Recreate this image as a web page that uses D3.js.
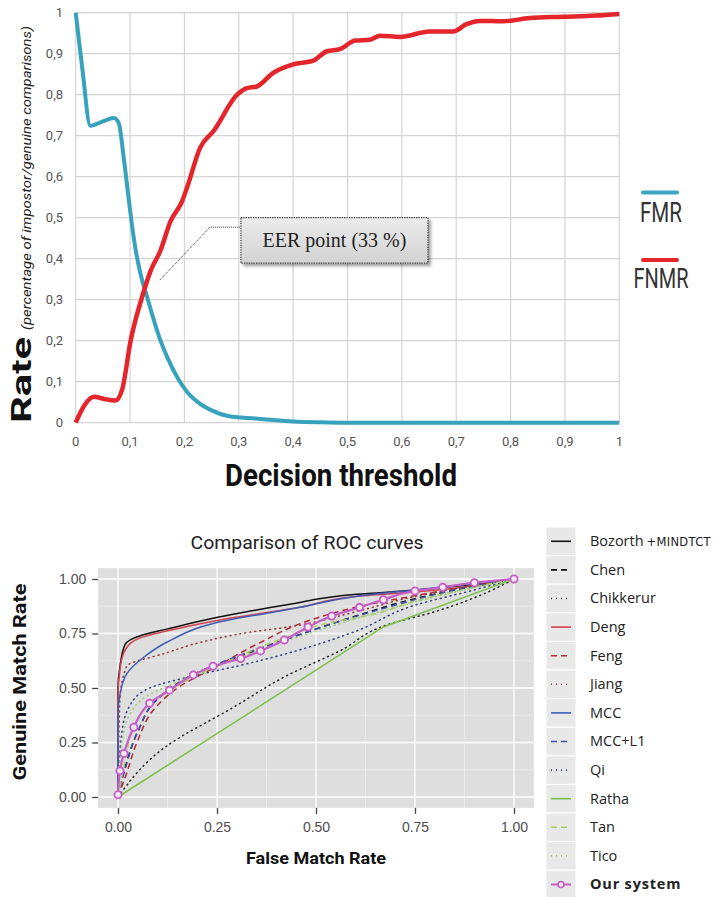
<!DOCTYPE html>
<html>
<head>
<meta charset="utf-8">
<script src="https://cdn.jsdelivr.net/npm/d3@7"></script>
<style>
  body { margin: 0; background: #fff; }
  svg { display: block; }
</style>
</head>
<body>
<div id="app"></div>
<script>
// ---- top chart : FMR / FNMR vs decision threshold ----
const fmrT  = [0, 0.012, 0.027, 0.05, 0.07, 0.079, 0.088, 0.098, 0.108, 0.118, 0.1315, 0.145, 0.156, 0.17, 0.187, 0.205, 0.229, 0.25, 0.278, 0.33, 0.40, 0.45, 0.5, 1];
const fmrV  = [1, 0.866, 0.724, 0.735, 0.743, 0.732, 0.65, 0.54, 0.44, 0.37, 0.306, 0.245, 0.2, 0.155, 0.11, 0.075, 0.046, 0.03, 0.017, 0.01, 0.003, 0.001, 0, 0];
const fnmrT = [0, 0.015, 0.034, 0.052, 0.073, 0.0857, 0.101, 0.122, 0.138, 0.156, 0.174, 0.196, 0.205, 0.229, 0.254, 0.297, 0.315, 0.333, 0.364, 0.40, 0.437, 0.462, 0.486, 0.514, 0.541, 0.56, 0.596, 0.651, 0.694, 0.719, 0.743, 0.786, 0.835, 0.896, 0.957, 1];
const fnmrV = [0, 0.04, 0.063, 0.058, 0.054, 0.082, 0.2, 0.306, 0.371, 0.42, 0.49, 0.541, 0.574, 0.671, 0.712, 0.80, 0.816, 0.82, 0.854, 0.874, 0.883, 0.906, 0.911, 0.932, 0.934, 0.944, 0.941, 0.954, 0.954, 0.972, 0.98, 0.979, 0.987, 0.99, 0.993, 0.997];
const topTicks = d3.range(0, 11).map(i => i / 10);
// EER call-out: pointer end, elbow, box corners (data units)
const eerLabel = "EER point (33 %)";
const eerPtr = [[0.155, 0.348], [0.247, 0.477], [0.304, 0.477]];
const eerBox = { t0: 0.304, t1: 0.648, r0: 0.389, r1: 0.5 };

// ---- bottom chart : ROC curves ----
const rocNames = ["Bozorth", "Chen", "Chikkerur", "Deng", "Feng", "Jiang", "MCC", "MCC+L1", "Qi", "Ratha", "Tan", "Tico", "Our system"];
const rocColors = ["#111111", "#111111", "#222222", "#d2434f", "#b32a35", "#9b3a3a", "#3d5db8", "#3e4fb0", "#2e3f86", "#7cc04a", "#a9cc60", "#9cc97c", "#c45ec6"];
const rocDash = ["", "6,4", "1,4", "", "6,4", "1,4", "", "6,4", "1,4", "", "6,4", "1,4", ""];
const rocX = [
  [0, 0, 0.005, 0.018, 0.056, 0.123, 0.249, 0.434, 0.603, 0.746, 1],
  [0, 0.02, 0.05, 0.1, 0.2, 0.3, 0.45, 0.6, 0.75, 1],
  [0, 0.12, 0.29, 0.43, 0.56, 0.68, 0.80, 0.94, 1],
  [0, 0, 0.006, 0.02, 0.056, 0.12, 0.25, 0.46, 0.6, 0.75, 1],
  [0, 0.02, 0.05, 0.09, 0.15, 0.25, 0.35, 0.5, 0.6, 0.77, 1],
  [0, 0.005, 0.022, 0.12, 0.21, 0.33, 0.43, 0.6, 0.75, 1],
  [0, 0, 0.005, 0.022, 0.064, 0.123, 0.25, 0.46, 0.6, 0.75, 1],
  [0, 0.02, 0.05, 0.1, 0.2, 0.3, 0.42, 0.55, 0.7, 0.85, 1],
  [0, 0.01, 0.03, 0.08, 0.2, 0.3, 0.43, 0.6, 0.75, 0.9, 1],
  [0, 0.67, 1],
  [0, 0.02, 0.039, 0.081, 0.14, 0.25, 0.434, 0.518, 0.645, 0.754, 1],
  [0, 0.01, 0.03, 0.07, 0.14, 0.25, 0.4, 0.55, 0.7, 0.85, 1],
  [0, 0.005, 0.015, 0.04, 0.08, 0.13, 0.19, 0.24, 0.31, 0.36, 0.42, 0.48, 0.54, 0.61, 0.67, 0.75, 0.82, 0.9, 1]
];
const rocY = [
  [0, 0.5, 0.6, 0.70, 0.74, 0.77, 0.823, 0.884, 0.93, 0.948, 1],
  [0, 0.15, 0.3, 0.45, 0.57, 0.64, 0.74, 0.83, 0.91, 1],
  [0, 0.23, 0.41, 0.56, 0.67, 0.79, 0.85, 0.945, 1],
  [0, 0.45, 0.6, 0.68, 0.73, 0.76, 0.81, 0.87, 0.92, 0.94, 1],
  [0, 0.1, 0.26, 0.4, 0.5, 0.6, 0.7, 0.82, 0.87, 0.93, 1],
  [0, 0.45, 0.6, 0.66, 0.71, 0.755, 0.78, 0.85, 0.92, 1],
  [0, 0.38, 0.47, 0.565, 0.64, 0.71, 0.80, 0.87, 0.92, 0.95, 1],
  [0, 0.14, 0.3, 0.45, 0.57, 0.645, 0.72, 0.8, 0.88, 0.95, 1],
  [0, 0.3, 0.42, 0.5, 0.56, 0.6, 0.66, 0.76, 0.88, 0.95, 1],
  [0, 0.78, 1],
  [0, 0.18, 0.32, 0.43, 0.5, 0.6, 0.74, 0.793, 0.838, 0.9, 1],
  [0, 0.25, 0.38, 0.46, 0.52, 0.6, 0.7, 0.79, 0.87, 0.94, 1],
  [0.01, 0.12, 0.2, 0.32, 0.43, 0.49, 0.56, 0.6, 0.635, 0.67, 0.72, 0.78, 0.83, 0.87, 0.905, 0.945, 0.962, 0.983, 1]
];
const rocTicks = [0, 0.25, 0.5, 0.75, 1];

const W = 726, H = 897;
const svg = d3.select("#app").append("svg").attr("width", W).attr("height", H);
const condFont = '"Liberation Sans Narrow", Roboto, "DejaVu Sans", sans-serif';

// ================= TOP CHART =================
const xT = d3.scaleLinear().domain([0, 1]).range([75.7, 619.3]);
const yT = d3.scaleLinear().domain([0, 1]).range([422.7, 12.7]);
const topG = svg.append("g");

// grid
topG.append("g").selectAll("line").data(topTicks).enter().append("line")
  .attr("x1", d => xT(d)).attr("x2", d => xT(d)).attr("y1", yT(0)).attr("y2", yT(1))
  .attr("stroke", "#d4d4d4").attr("stroke-width", 1.2);
topG.append("g").selectAll("line").data(topTicks).enter().append("line")
  .attr("x1", xT(0)).attr("x2", xT(1)).attr("y1", d => yT(d)).attr("y2", d => yT(d))
  .attr("stroke", "#d4d4d4").attr("stroke-width", 1.2);

const fmt = d => d === 0 || d === 1 ? String(d) : String(d).replace(".", ",");
topG.append("g").attr("transform", "translate(0," + (yT(0) + 23) + ")")
  .selectAll("text").data(topTicks).enter().append("text")
  .attr("x", d => xT(d)).attr("text-anchor", "middle")
  .attr("font-family", condFont).attr("font-size", 13).attr("fill", "#555")
  .text(fmt);
topG.append("g").selectAll("text").data(topTicks).enter().append("text")
  .attr("x", 63).attr("y", d => yT(d) + 4.5).attr("text-anchor", "end")
  .attr("font-family", condFont).attr("font-size", 13).attr("fill", "#555")
  .text(fmt);

const lineT = d3.line().x(d => xT(d[0])).y(d => yT(d[1])).curve(d3.curveMonotoneX);
topG.append("path").datum(fmrT.map((t, i) => [t, fmrV[i]]))
  .attr("d", lineT).attr("fill", "none").attr("stroke", "#38a2bd").attr("stroke-width", 4)
  .attr("stroke-linejoin", "round");
topG.append("path").datum(fnmrT.map((t, i) => [t, fnmrV[i]]))
  .attr("d", lineT).attr("fill", "none").attr("stroke", "#e4252b").attr("stroke-width", 4.5)
  .attr("stroke-linejoin", "round");

// EER call-out
const defs = svg.append("defs");
const grad = defs.append("linearGradient").attr("id", "boxg").attr("x1", 0).attr("x2", 0).attr("y1", 0).attr("y2", 1);
grad.append("stop").attr("offset", "0%").attr("stop-color", "#ececec");
grad.append("stop").attr("offset", "100%").attr("stop-color", "#d2d2d2");
const shadow = defs.append("filter").attr("id", "shd").attr("x", "-10%").attr("y", "-20%").attr("width", "130%").attr("height", "160%");
shadow.append("feDropShadow").attr("dx", 2.5).attr("dy", 2.5).attr("stdDeviation", 1.8).attr("flood-color", "#000").attr("flood-opacity", 0.4);

topG.append("path").datum(eerPtr)
  .attr("d", d3.line().x(d => xT(d[0])).y(d => yT(d[1])))
  .attr("fill", "none").attr("stroke", "#333").attr("stroke-width", 1).attr("stroke-dasharray", "1,1");
topG.append("rect")
  .attr("x", xT(eerBox.t0)).attr("y", yT(eerBox.r1))
  .attr("width", xT(eerBox.t1) - xT(eerBox.t0)).attr("height", yT(eerBox.r0) - yT(eerBox.r1))
  .attr("fill", "url(#boxg)").attr("stroke", "#333").attr("stroke-width", 1.2).attr("stroke-dasharray", "1.2,1.2")
  .attr("filter", "url(#shd)");
topG.append("text")
  .attr("x", (xT(eerBox.t0) + xT(eerBox.t1)) / 2).attr("y", (yT(eerBox.r0) + yT(eerBox.r1)) / 2 + 7)
  .attr("text-anchor", "middle").attr("font-family", '"Liberation Serif", "DejaVu Serif", serif')
  .attr("font-size", 20).attr("fill", "#222").text(eerLabel);

// axis titles
topG.append("text").attr("x", 341).attr("y", 486).attr("text-anchor", "middle")
  .attr("font-family", condFont).attr("font-weight", "bold").attr("font-size", 31)
  .attr("textLength", 232).attr("lengthAdjust", "spacingAndGlyphs")
  .attr("fill", "#111").text("Decision threshold");
topG.append("text").attr("transform", "translate(31,423) rotate(-90)")
  .attr("font-family", condFont).attr("font-weight", "bold").attr("font-size", 28)
  .attr("textLength", 86).attr("lengthAdjust", "spacingAndGlyphs")
  .attr("fill", "#111").text("Rate");
topG.append("text").attr("transform", "translate(31,330) rotate(-90)")
  .attr("font-family", condFont).attr("font-style", "italic").attr("font-size", 12.5)
  .attr("textLength", 304).attr("lengthAdjust", "spacingAndGlyphs")
  .attr("fill", "#222").text("(percentage of impostor/genuine comparisons)");

// legend FMR / FNMR
const topLeg = [{ n: "FMR", c: "#3ca6c2", y: 192.5, w: 42, b: 222 }, { n: "FNMR", c: "#e4252b", y: 260, w: 55, b: 288 }];
const tl = topG.append("g").selectAll("g").data(topLeg).enter().append("g");
tl.append("line").attr("x1", 643).attr("x2", 677).attr("y1", d => d.y).attr("y2", d => d.y)
  .attr("stroke", d => d.c).attr("stroke-width", 4).attr("stroke-linecap", "round");
tl.append("text").attr("x", 661).attr("y", d => d.b).attr("text-anchor", "middle")
  .attr("font-family", condFont).attr("font-size", 27)
  .attr("textLength", d => d.w).attr("lengthAdjust", "spacingAndGlyphs").attr("fill", "#333")
  .text(d => d.n);

// ================= BOTTOM CHART =================
const xB = d3.scaleLinear().domain([0, 1]).range([118, 514]);
const yB = d3.scaleLinear().domain([0, 1]).range([797, 579]);
const bot = svg.append("g");
const px0 = xB(-0.05), px1 = xB(1.05), py0 = yB(1.05), py1 = yB(-0.05);

bot.append("rect").attr("x", px0).attr("y", py0).attr("width", px1 - px0).attr("height", py1 - py0).attr("fill", "#dedede");
const minor = [0.125, 0.375, 0.625, 0.875];
bot.append("g").selectAll("line").data(minor).enter().append("line")
  .attr("x1", d => xB(d)).attr("x2", d => xB(d)).attr("y1", py0).attr("y2", py1)
  .attr("stroke", "#f2f2f2").attr("stroke-width", 0.6);
bot.append("g").selectAll("line").data(minor).enter().append("line")
  .attr("y1", d => yB(d)).attr("y2", d => yB(d)).attr("x1", px0).attr("x2", px1)
  .attr("stroke", "#f2f2f2").attr("stroke-width", 0.6);
bot.append("g").selectAll("line").data(rocTicks).enter().append("line")
  .attr("x1", d => xB(d)).attr("x2", d => xB(d)).attr("y1", py0).attr("y2", py1)
  .attr("stroke", "#fff").attr("stroke-width", 1.3);
bot.append("g").selectAll("line").data(rocTicks).enter().append("line")
  .attr("y1", d => yB(d)).attr("y2", d => yB(d)).attr("x1", px0).attr("x2", px1)
  .attr("stroke", "#fff").attr("stroke-width", 1.3);

// axes
const axB = bot.append("g").attr("transform", "translate(0," + py1 + ")")
  .call(d3.axisBottom(xB).tickValues(rocTicks).tickFormat(d3.format(".2f")).tickSize(6).tickPadding(8));
const axL = bot.append("g").attr("transform", "translate(" + px0 + ",0)")
  .call(d3.axisLeft(yB).tickValues(rocTicks).tickFormat(d3.format(".2f")).tickSize(6).tickPadding(6));
[axB, axL].forEach(a => {
  a.select(".domain").remove();
  a.selectAll(".tick line").attr("stroke", "#444").attr("stroke-width", 1.3);
  a.selectAll(".tick text").attr("fill", "#4d4d4d").attr("font-size", 14)
    .attr("font-family", '"Liberation Sans", Arial, sans-serif');
});

const rocData = rocNames.map((n, i) => ({ n, c: rocColors[i], dash: rocDash[i], pts: rocX[i].map((x, j) => [x, rocY[i][j]]) }));
const lineB = d3.line().x(p => xB(p[0])).y(p => yB(p[1])).curve(d3.curveMonotoneY);
const lineStraight = d3.line().x(p => xB(p[0])).y(p => yB(p[1]));
bot.append("g").selectAll("path").data(rocData).enter().append("path")
  .attr("d", d => d.pts.length > 3 ? lineB(d.pts) : lineStraight(d.pts))
  .attr("fill", "none").attr("stroke", d => d.c)
  .attr("stroke-width", d => d.n === "Our system" ? 2.2 : 1.5)
  .attr("stroke-dasharray", d => d.dash || null)
  .attr("stroke-linecap", d => d.dash.startsWith("1,") ? "round" : "butt");
const ours = rocData[rocData.length - 1];
bot.append("g").selectAll("circle").data(ours.pts).enter().append("circle")
  .attr("cx", d => xB(d[0])).attr("cy", d => yB(d[1])).attr("r", 3.6)
  .attr("fill", "#f4e8f4").attr("stroke", ours.c).attr("stroke-width", 1.8);

// titles
bot.append("text").attr("x", 307).attr("y", 549).attr("text-anchor", "middle")
  .attr("font-family", condFont).attr("font-size", 18)
  .attr("textLength", 233).attr("lengthAdjust", "spacingAndGlyphs").attr("fill", "#222")
  .text("Comparison of ROC curves");
bot.append("text").attr("x", (px0 + px1) / 2).attr("y", 864).attr("text-anchor", "middle")
  .attr("font-family", condFont).attr("font-weight", "bold").attr("font-size", 17)
  .attr("textLength", 140).attr("lengthAdjust", "spacingAndGlyphs")
  .attr("fill", "#111").text("False Match Rate");
bot.append("text").attr("transform", "translate(26,682) rotate(-90)").attr("text-anchor", "middle")
  .attr("font-family", condFont).attr("font-weight", "bold").attr("font-size", 18)
  .attr("textLength", 197).attr("lengthAdjust", "spacingAndGlyphs")
  .attr("fill", "#111").text("Genuine Match Rate");

// legend
const legStep = 28.6, legY0 = 527;
const lg = bot.append("g").selectAll("g").data(rocData).enter().append("g")
  .attr("transform", (d, i) => "translate(546," + (legY0 + i * legStep) + ")");
lg.append("rect").attr("width", 30).attr("height", legStep).attr("fill", "#e8e8e8").attr("stroke", "#fff").attr("stroke-width", 1);
lg.append("line").attr("x1", 5).attr("x2", 25).attr("y1", legStep / 2).attr("y2", legStep / 2)
  .attr("stroke", d => d.c).attr("stroke-width", d => d.n === "Our system" ? 2 : 1.6)
  .attr("stroke-dasharray", d => d.dash || null);
lg.filter(d => d.n === "Our system").append("circle").attr("cx", 15).attr("cy", legStep / 2).attr("r", 3)
  .attr("fill", "#f4e8f4").attr("stroke", d => d.c).attr("stroke-width", 1.6);
const lt = lg.append("text").attr("x", 44).attr("y", legStep / 2 + 5)
  .attr("font-family", '"Open Sans", "Noto Sans", sans-serif').attr("font-size", 14.5)
  .attr("font-weight", d => d.n === "Our system" ? "bold" : "normal")
  .attr("letter-spacing", d => d.n === "Our system" ? 0.8 : 0)
  .attr("fill", "#222").text(d => d.n);
lt.filter(d => d.n === "Bozorth").append("tspan").attr("dx", 3)
  .attr("font-family", '"DejaVu Sans", sans-serif').attr("font-size", 11.5).attr("letter-spacing", 0.3)
  .text("+MINDTCT");
</script>
</body>
</html>
